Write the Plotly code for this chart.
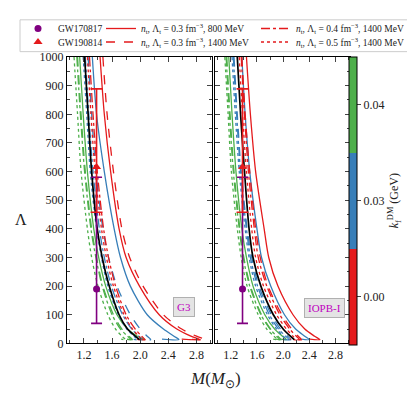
import plotly.graph_objects as go

# Lambda levels at which M was read off every curve; the extra value closes the
# small turn-back at the maximum mass
LAM = [1000, 800, 600, 400, 300, 200, 100, 50, 25, 13]
LAM_HOOK = LAM + [15]

# G3 panel, M (M_sun) at the LAM levels
G3_BLACK = [1.21, 1.26, 1.31, 1.39, 1.46, 1.56, 1.70, 1.82, 1.93, 1.99]
G3_RED_SOLID = [1.43, 1.49, 1.58, 1.70, 1.80, 1.99, 2.27, 2.52, 2.72, 2.85, 2.59]
G3_RED_DASH = [1.47, 1.53, 1.62, 1.74, 1.85, 2.04, 2.33, 2.59, 2.80, 2.93, 2.66]
G3_RED_DASHDOT = [1.28, 1.33, 1.39, 1.48, 1.55, 1.65, 1.80, 1.93, 2.02, 2.07, 1.97]
G3_RED_DOT = [1.25, 1.30, 1.36, 1.45, 1.52, 1.62, 1.77, 1.89, 1.98, 2.02, 1.93]
G3_BLUE_SOLID = [1.32, 1.38, 1.49, 1.63, 1.72, 1.86, 2.10, 2.33, 2.48, 2.55, 2.31]
G3_BLUE_DASH = [1.26, 1.31, 1.37, 1.47, 1.55, 1.67, 1.86, 2.00, 2.10, 2.15, 2.05]
G3_BLUE_DASHDOT = [1.22, 1.27, 1.33, 1.42, 1.49, 1.59, 1.75, 1.88, 1.98, 2.03, 1.95]
G3_BLUE_DOT = [1.19, 1.24, 1.29, 1.38, 1.45, 1.54, 1.69, 1.81, 1.91, 1.96, 1.88]
G3_GREEN_SOLID = [1.14, 1.19, 1.25, 1.34, 1.41, 1.51, 1.67, 1.82, 1.96, 2.07, 1.98]
G3_GREEN_DASH = [1.11, 1.16, 1.22, 1.31, 1.38, 1.47, 1.62, 1.74, 1.84, 1.89, 1.82]
G3_GREEN_DASHDOT = [1.10, 1.15, 1.21, 1.30, 1.37, 1.46, 1.60, 1.72, 1.82, 1.87, 1.80]
G3_GREEN_DOT = [1.06, 1.11, 1.16, 1.25, 1.31, 1.40, 1.54, 1.65, 1.74, 1.79, 1.73]

# IOPB-I panel
IO_BLACK = [1.30, 1.35, 1.41, 1.48, 1.54, 1.66, 1.85, 2.00, 2.11, 2.17]
IO_RED_SOLID = [1.44, 1.50, 1.58, 1.71, 1.78, 1.92, 2.15, 2.33, 2.48, 2.56, 2.41]
IO_RED_DASH = [1.37, 1.42, 1.49, 1.58, 1.65, 1.77, 1.98, 2.13, 2.23, 2.28, 2.18]
IO_RED_DASHDOT = [1.36, 1.41, 1.47, 1.56, 1.62, 1.75, 1.95, 2.10, 2.20, 2.25, 2.15]
IO_RED_DOT = [1.33, 1.38, 1.44, 1.52, 1.58, 1.70, 1.90, 2.05, 2.15, 2.20, 2.10]
IO_BLUE_SOLID = [1.37, 1.42, 1.49, 1.60, 1.67, 1.81, 2.02, 2.19, 2.33, 2.40, 2.28]
IO_BLUE_DASH = [1.25, 1.30, 1.36, 1.45, 1.52, 1.63, 1.82, 1.96, 2.07, 2.12, 2.03]
IO_BLUE_DASHDOT = [1.24, 1.29, 1.35, 1.44, 1.50, 1.61, 1.79, 1.93, 2.04, 2.09, 2.00]
IO_BLUE_DOT = [1.22, 1.27, 1.33, 1.42, 1.48, 1.58, 1.76, 1.90, 2.00, 2.05, 1.97]
IO_GREEN_SOLID = [1.17, 1.22, 1.28, 1.37, 1.44, 1.54, 1.72, 1.87, 1.99, 2.05, 1.97]
IO_GREEN_DASH = [1.14, 1.19, 1.25, 1.34, 1.40, 1.50, 1.67, 1.81, 1.92, 1.97, 1.90]
IO_GREEN_DASHDOT = [1.13, 1.18, 1.24, 1.33, 1.39, 1.49, 1.66, 1.80, 1.90, 1.95, 1.88]
IO_GREEN_DOT = [1.11, 1.16, 1.21, 1.30, 1.36, 1.45, 1.62, 1.75, 1.86, 1.91, 1.84]

# GW constraints on Lambda_1.4
GW170817_M = [1.38]
GW170817_L = [190]
GW170817_UP = [390]
GW170817_DN = [120]
GW190814_M = [1.38]
GW190814_L = [616]
GW190814_UP = [273]
GW190814_DN = [158]

KF_LABELS = ["0.00", "0.03", "0.04"]
LEGEND_NAMES = [
    "<i>n</i><sub>t</sub>, Λ<sub>t</sub> = 0.3 fm<sup>−3</sup>, 800 MeV",
    "<i>n</i><sub>t</sub>, Λ<sub>t</sub> = 0.3 fm<sup>−3</sup>, 1400 MeV",
    "<i>n</i><sub>t</sub>, Λ<sub>t</sub> = 0.4 fm<sup>−3</sup>, 1400 MeV",
    "<i>n</i><sub>t</sub>, Λ<sub>t</sub> = 0.5 fm<sup>−3</sup>, 1400 MeV",
]

RED = "#e41a1c"
BLUE = "#377eb8"
GREEN = "#4daf4a"
PURPLE = "#800080"
FONT = "Liberation Serif"
W, H = 415, 393

panels = [
    ("x", "y", {
        "green": [G3_GREEN_SOLID, G3_GREEN_DASH, G3_GREEN_DASHDOT, G3_GREEN_DOT],
        "blue": [G3_BLUE_SOLID, G3_BLUE_DASH, G3_BLUE_DASHDOT, G3_BLUE_DOT],
        "red": [G3_RED_SOLID, G3_RED_DASH, G3_RED_DASHDOT, G3_RED_DOT],
    }, G3_BLACK),
    ("x2", "y2", {
        "green": [IO_GREEN_SOLID, IO_GREEN_DASH, IO_GREEN_DASHDOT, IO_GREEN_DOT],
        "blue": [IO_BLUE_SOLID, IO_BLUE_DASH, IO_BLUE_DASHDOT, IO_BLUE_DOT],
        "red": [IO_RED_SOLID, IO_RED_DASH, IO_RED_DASHDOT, IO_RED_DOT],
    }, IO_BLACK),
]
colors = {"green": GREEN, "blue": BLUE, "red": RED}
dashes = ["solid", "dash", "dashdot", "dot"]
# one single-entry legend per slot, so the rows can sit closer than plotly allows
line_legends = ["legend2", "legend5", "legend3", "legend6"]

fig = go.Figure()

for pi, (xa, ya, groups, black) in enumerate(panels):
    for cname in ["green", "blue", "red"]:
        for di, mvals in enumerate(groups[cname]):
            lam = LAM_HOOK if len(mvals) == len(LAM_HOOK) else LAM
            show = (pi == 0 and cname == "red")
            fig.add_trace(go.Scatter(
                x=mvals, y=lam, mode="lines",
                line=dict(color=colors[cname], dash=dashes[di], width=1.3,
                          shape="spline", smoothing=0.8),
                name=LEGEND_NAMES[di] if show else None,
                showlegend=show, legend=line_legends[di],
                xaxis=xa, yaxis=ya, hoverinfo="skip",
            ))
    fig.add_trace(go.Scatter(
        x=black, y=LAM, mode="lines",
        line=dict(color="black", width=1.7, shape="spline", smoothing=0.8),
        showlegend=False, xaxis=xa, yaxis=ya,
    ))
    fig.add_trace(go.Scatter(
        x=GW170817_M, y=GW170817_L, mode="markers",
        marker=dict(color=PURPLE, size=7, symbol="circle"),
        error_y=dict(type="data", symmetric=False, array=GW170817_UP,
                     arrayminus=GW170817_DN, color=PURPLE, thickness=1.6, width=5.5),
        name="GW170817", showlegend=(pi == 0), legend="legend",
        xaxis=xa, yaxis=ya,
    ))
    fig.add_trace(go.Scatter(
        x=GW190814_M, y=GW190814_L, mode="markers",
        marker=dict(color=RED, size=8, symbol="triangle-up"),
        error_y=dict(type="data", symmetric=False, array=GW190814_UP,
                     arrayminus=GW190814_DN, color=RED, thickness=1.6, width=6),
        name="GW190814", showlegend=(pi == 0), legend="legend4",
        xaxis=xa, yaxis=ya,
    ))

# discrete colour bar for k_f^DM
cscale = [[0, RED], [1 / 3, RED], [1 / 3, BLUE], [2 / 3, BLUE], [2 / 3, GREEN], [1, GREEN]]
fig.add_trace(go.Scatter(
    x=[None], y=[None], mode="markers", showlegend=False, xaxis="x2", yaxis="y2",
    marker=dict(color=[0], colorscale=cscale, cmin=0, cmax=3, showscale=True,
                colorbar=dict(
                    x=341 / W, xanchor="left", xpad=0, y=1 - 192.5 / H, yanchor="middle",
                    ypad=0, len=299 / H, lenmode="fraction", thickness=8,
                    outlinewidth=1, outlinecolor="black",
                    tickvals=[0.5, 1.5, 2.5], ticktext=KF_LABELS, ticks="outside",
                    ticklen=4, tickfont=dict(size=12, family=FONT, color="#222"),
                    title=dict(text="<i>k</i><sub>f</sub><sup>DM</sup> (GeV)", side="right",
                               font=dict(size=12, family=FONT, color="#222")),
                )),
))

xcommon = dict(range=[0.96, 3.02], tickvals=[1.2, 1.6, 2.0, 2.4, 2.8],
               ticktext=["1.2", "1.6", "2.0", "2.4", "2.8"],
               ticks="inside", ticklen=5, mirror="allticks", showline=True,
               linecolor="black", linewidth=1.2, showgrid=False, zeroline=False,
               tickfont=dict(size=12, family=FONT, color="#222"),
               minor=dict(tickvals=[1.0, 1.4, 1.8, 2.2, 2.6, 3.0], ticks="inside", ticklen=3))
ycommon = dict(range=[0, 1000], dtick=100, ticks="inside", ticklen=5, mirror="allticks",
               showline=True, linecolor="black", linewidth=1.2, showgrid=False,
               zeroline=False, tickfont=dict(size=12, family=FONT, color="#222"),
               minor=dict(dtick=50, ticks="inside", ticklen=3))
ydom = [1 - 340.5 / H, 1 - 43.6 / H]


def leg(x, row_y, size):
    return dict(x=x / W, y=1 - row_y / H, xanchor="left", yanchor="middle",
                bgcolor="rgba(0,0,0,0)", borderwidth=0,
                font=dict(size=size, family=FONT, color="#222"))


fig.update_layout(
    width=W, height=H, margin=dict(l=0, r=0, t=0, b=0),
    paper_bgcolor="white", plot_bgcolor="white",
    font=dict(family=FONT, color="#222"),
    xaxis=dict(domain=[59 / W, 204 / W], anchor="y", **xcommon),
    xaxis2=dict(domain=[207 / W, 342 / W], anchor="y2", **xcommon),
    yaxis=dict(domain=ydom, anchor="x", **ycommon),
    yaxis2=dict(domain=ydom, anchor="x2", showticklabels=False, **ycommon),
    legend=leg(10, 14, 9.5),
    legend4=leg(10, 28, 9.5),
    legend2=leg(93, 14, 9.5),
    legend5=leg(93, 28, 9.5),
    legend3=leg(248, 14, 9.5),
    legend6=leg(248, 28, 9.5),
    shapes=[dict(type="rect", xref="paper", yref="paper",
                 x0=12 / W, x1=410 / W, y0=1 - 38 / H, y1=1 - 5 / H,
                 line=dict(color="#cccccc", width=1), fillcolor="white", layer="below")],
    annotations=[
        dict(text="G3", x=2.62, y=126, xref="x", yref="y", showarrow=False,
             font=dict(size=11, family=FONT, color="#bf00bf"), bgcolor="#e4e4e4",
             bordercolor="#b0b0b0", borderwidth=1, borderpad=3),
        dict(text="IOPB-I", x=2.63, y=123, xref="x2", yref="y2", showarrow=False,
             font=dict(size=11, family=FONT, color="#bf00bf"), bgcolor="#e4e4e4",
             bordercolor="#b0b0b0", borderwidth=1, borderpad=3),
        dict(text="<i>M</i>(<i>M</i><sub>⊙</sub>)", x=207 / W, y=1 - 365 / H,
             xref="paper", yref="paper", yanchor="top", showarrow=False,
             font=dict(size=17, family=FONT, color="#222")),
        dict(text="Λ", x=13 / W, y=1 - 212 / H, xref="paper", yref="paper",
             xanchor="center", showarrow=False,
             font=dict(size=16, family=FONT, color="#222")),
    ],
)

fig.write_html("out.html")
